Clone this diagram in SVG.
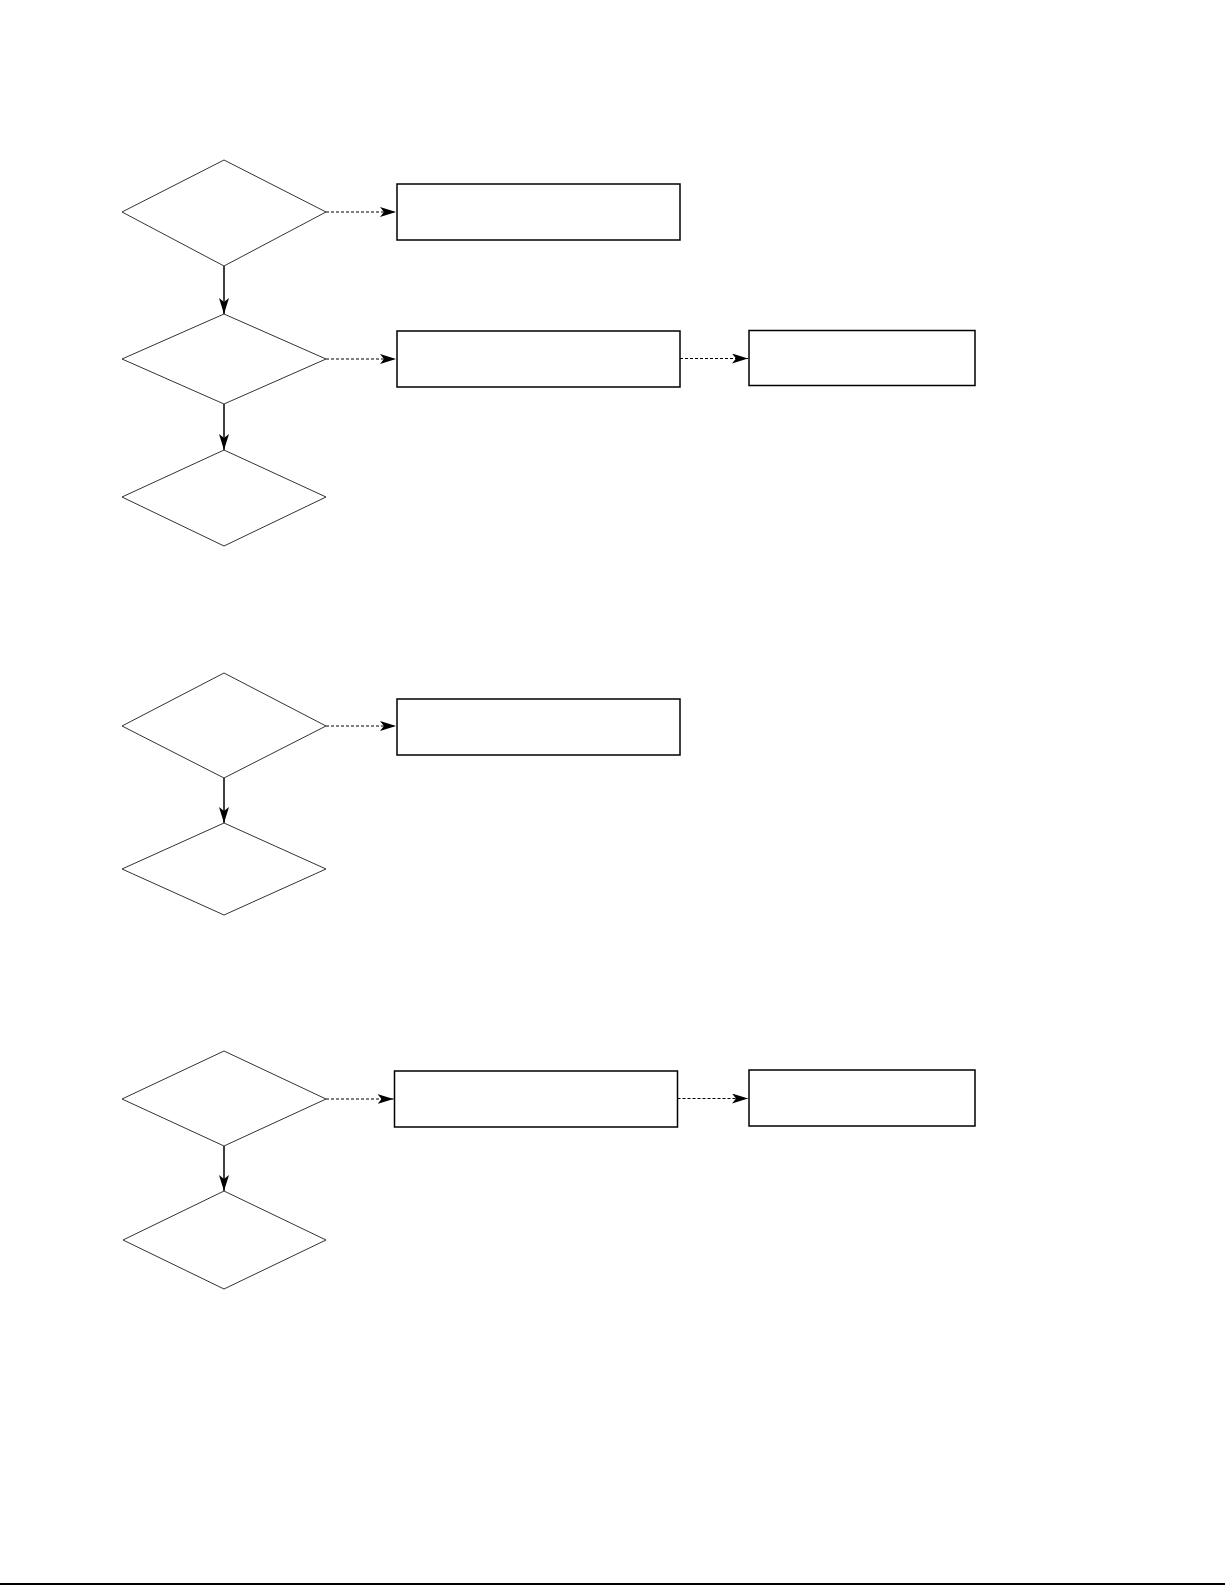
<svg xmlns="http://www.w3.org/2000/svg" width="1225" height="1585" viewBox="0 0 1225 1585">
<style>
.dia{fill:#fff;stroke:#333;stroke-width:1}
.box{fill:#fff;stroke:#000;stroke-width:1.5}
.solid{fill:none;stroke:#000;stroke-width:1.5}
.dash{fill:none;stroke:#000;stroke-width:1.2;stroke-dasharray:3,2}
</style>
<defs>
<marker id="ah" markerUnits="userSpaceOnUse" markerWidth="18" markerHeight="12" refX="16" refY="5" orient="auto">
<path d="M0,0 L16,5 L0,10 L4,5 Z" fill="#000"/>
</marker>
</defs>
<rect width="1225" height="1585" fill="#fff"/>
<g id="connectors">
<line class="solid" x1="224" y1="266" x2="224" y2="314" marker-end="url(#ah)"/>
<line class="solid" x1="224" y1="404" x2="224" y2="450" marker-end="url(#ah)"/>
<line class="solid" x1="224" y1="778" x2="224" y2="823" marker-end="url(#ah)"/>
<line class="solid" x1="224" y1="1146" x2="224" y2="1191" marker-end="url(#ah)"/>
<line class="dash" x1="326" y1="212" x2="396" y2="212" marker-end="url(#ah)"/>
<line class="dash" x1="326" y1="359" x2="396" y2="359" marker-end="url(#ah)"/>
<line class="dash" x1="680" y1="358.5" x2="748" y2="358.5" marker-end="url(#ah)"/>
<line class="dash" x1="326" y1="726" x2="396" y2="726" marker-end="url(#ah)"/>
<line class="dash" x1="326" y1="1099" x2="393.5" y2="1099" marker-end="url(#ah)"/>
<line class="dash" x1="677.5" y1="1098.5" x2="748" y2="1098.5" marker-end="url(#ah)"/>
</g>
<g id="d1"><polygon class="dia" points="122,212 224,160 326,212 224,266"/></g>
<g id="d2"><polygon class="dia" points="122,359 224,314 326,359 224,404"/></g>
<g id="d3"><polygon class="dia" points="122,497 224,450 326,497 224,546"/></g>
<g id="d4"><polygon class="dia" points="122,726 224,673 326,726 224,778"/></g>
<g id="d5"><polygon class="dia" points="122,869 224,823 326,869 224,915"/></g>
<g id="d6"><polygon class="dia" points="122,1099 224,1051 326,1099 224,1146"/></g>
<g id="d7"><polygon class="dia" points="123,1240 224,1191 326,1240 224,1289"/></g>
<g id="b1"><rect class="box" x="397" y="184" width="283" height="56"/></g>
<g id="b2"><rect class="box" x="397" y="331" width="283" height="56"/></g>
<g id="b3"><rect class="box" x="749" y="330.5" width="226" height="55"/></g>
<g id="b4"><rect class="box" x="397" y="699" width="283" height="56"/></g>
<g id="b5"><rect class="box" x="394.5" y="1071" width="283" height="56"/></g>
<g id="b6"><rect class="box" x="749" y="1070" width="226" height="56"/></g>
<line x1="0" y1="1584" x2="1225" y2="1584" stroke="#000" stroke-width="2"/>
</svg>
